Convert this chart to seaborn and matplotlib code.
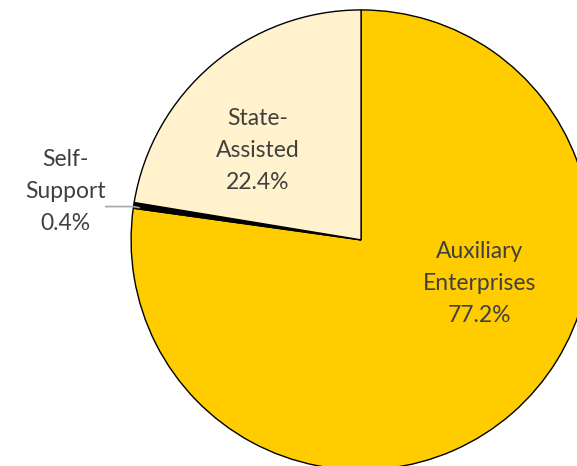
import matplotlib
matplotlib.use("Agg")
import matplotlib.pyplot as plt
import seaborn as sns

categories = ["Auxiliary\nEnterprises", "Self-\nSupport", "State-\nAssisted"]
shares = [77.2, 0.4, 22.4]
colors = ["#FFCC00", "#000000", "#FFF2CC"]

sns.set_theme(style="white")
plt.rcParams["font.family"] = ["Lato", "DejaVu Sans"]

fig = plt.figure(figsize=(5.77, 4.66), dpi=100)
ax = fig.add_axes([0, 0, 1, 1])

wedges, _ = ax.pie(
    shares,
    colors=colors,
    startangle=90,
    counterclock=False,
    radius=1.0,
    wedgeprops=dict(edgecolor="black", linewidth=1.0),
)

# show the part of the pie that fits in the frame
ax.set_xlim(-1.570, 0.939)
ax.set_ylim(-0.983, 1.043)
ax.set_aspect("equal")
ax.axis("off")

txt_color = "#404040"
fs = 16.5
ls = 1.65

def label(i):
    return f"{categories[i]}\n{shares[i]:.1f}%"

ax.text(0.517, -0.19, label(0), ha="center", va="center", fontsize=fs,
        color=txt_color, linespacing=ls)
ax.text(-0.448, 0.39, label(2), ha="center", va="center", fontsize=fs,
        color=txt_color, linespacing=ls)
ax.text(-1.285, 0.21, label(1), ha="center", va="center", fontsize=fs,
        color=txt_color, linespacing=ls)

# leader line for the small slice
ax.plot([-1.11, -0.99, -0.965], [0.145, 0.145, 0.14], color="#A6A6A6", lw=1.2)

fig.savefig("out.png", dpi=100, facecolor="white")
